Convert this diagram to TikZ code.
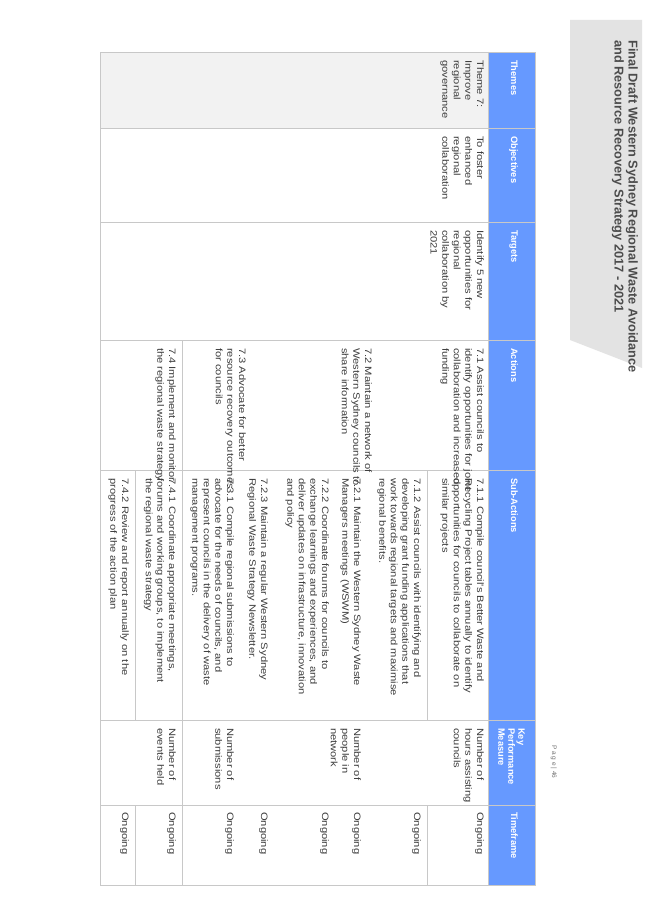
\documentclass[tikz,border=0pt]{standalone}
\usepackage{fontspec}
\setmainfont{Liberation Sans}
\newfontfamily\cellfont[FakeStretch=1.2]{Liberation Sans}
\definecolor{hdr}{RGB}{102,153,255}
\definecolor{gridc}{RGB}{200,200,200}
\definecolor{txt}{RGB}{60,60,60}
\begin{document}
\begin{tikzpicture}[x=1pt,y=-1pt,
  cell/.style={rotate=-90,anchor=north west,inner sep=0pt,align=left,text=txt,font=\cellfont\fontsize{9.3}{11.6}\selectfont},
  head/.style={rotate=-90,anchor=north west,inner sep=0pt,align=left,text=white,font=\bfseries\fontsize{9.3}{10}\selectfont},
  grid/.style={draw=gridc,line width=0.8pt}]
\path[fill=white] (0,0) rectangle (653,923);
\useasboundingbox (0,0) rectangle (653,923);
% title tab
\fill[gray!22] (570,20) -- (642,20) -- (642,368) -- (570,340) -- cycle;
\node[rotate=-90,anchor=north west,inner sep=0pt,align=left,text=black!70,font=\bfseries\fontsize{12.8}{14}\selectfont] (title) at (638,40)
 {Final Draft Western Sydney Regional Waste Avoidance\\and Resource Recovery Strategy 2017 - 2021};
\node[rotate=-90,anchor=north west,inner sep=0pt,text=black!55,font=\fontsize{6.5}{8}\selectfont] (page) at (557,745) {P a g e \textbar{} 46};
% header + theme fill
\fill[hdr] (488,52) rectangle (535,885);
\fill[gray!10] (100,52) rectangle (488,128);
% grid
\foreach \yy in {128,222,340,470,720,805} \draw[grid] (100,\yy) -- (535,\yy);
\draw[grid] (100,52) rectangle (535,885);
\draw[grid] (488,52) -- (488,885);
\draw[grid] (182,340) -- (182,885);
\draw[grid] (427,470) -- (427,720); \draw[grid] (427,805) -- (427,885);
\draw[grid] (135,470) -- (135,720); \draw[grid] (135,805) -- (135,885);
% headers
\node[head] (hth) at (518,60) {Themes};
\node[head] (hob) at (518,136) {Objectives};
\node[head] (hta) at (518,230) {Targets};
\node[head] (hac) at (518,348) {Actions};
\node[head] (hsu) at (518,478) {Sub-Actions};
\node[head] (hkp) at (525,728) {Key\\Performance\\Measure};
\node[head] (htf) at (518,812) {Timeframe};
% first columns
\node[cell] (th) at (484,60) {Theme 7:\\Improve\\regional\\governance};
\node[cell] (ob) at (484,136) {To foster\\enhanced\\regional\\collaboration};
\node[cell] (ta) at (484,230) {Identify 5 new\\opportunities for\\regional\\collaboration by\\2021};
% actions
\node[cell] (a1) at (484,348) {7.1 Assist councils to\\identify opportunities for joint\\collaboration and increased\\funding};
\node[cell] (a2) at (372,348) {7.2 Maintain a network of\\Western Sydney councils to\\share information};
\node[cell] (a3) at (246,348) {7.3 Advocate for better\\resource recovery outcomes\\for councils};
\node[cell] (a4) at (176,348) {7.4 Implement and monitor\\the regional waste strategy};
% sub-actions
\node[cell] (s11) at (484,478) {7.1.1 Compile council's Better Waste and\\Recycling Project tables annually to identify\\opportunities for councils to collaborate on\\similar projects};
\node[cell] (s12) at (421,478) {7.1.2 Assist councils with identifying and\\developing grant funding applications that\\work towards regional targets and maximise\\regional benefits.};
\node[cell] (s21) at (361,478) {7.2.1 Maintain the Western Sydney Waste\\Managers meetings (WSWM)};
\node[cell] (s22) at (329,478) {7.2.2 Coordinate forums for councils to\\exchange learnings and experiences, and\\deliver updates on infrastructure, innovation\\and policy};
\node[cell] (s23) at (268,478) {7.2.3 Maintain a regular Western Sydney\\Regional Waste Strategy Newsletter.};
\node[cell] (s31) at (234,478) {7.3.1 Compile regional submissions to\\advocate for the needs of councils, and\\represent councils in the delivery of waste\\management programs.};
\node[cell] (s41) at (176,478) {7.4.1 Coordinate appropriate meetings,\\forums and working groups, to implement\\the regional waste strategy};
\node[cell] (s42) at (129,478) {7.4.2 Review and report annually on the\\progress of the action plan};
% KPI
\node[cell] (k1) at (484,728) {Number of\\hours assisting\\councils};
\node[cell] (k2) at (361,728) {Number of\\people in\\network};
\node[cell] (k3) at (234,728) {Number of\\submissions};
\node[cell] (k4) at (176,728) {Number of\\events held};
% timeframe
\foreach \xx/\nm in {484/t1,421/t2,361/t3,329/t4,268/t5,234/t6,176/t7,129/t8}
  \node[cell] (\nm) at (\xx,812) {Ongoing};
\end{tikzpicture}
\end{document}
